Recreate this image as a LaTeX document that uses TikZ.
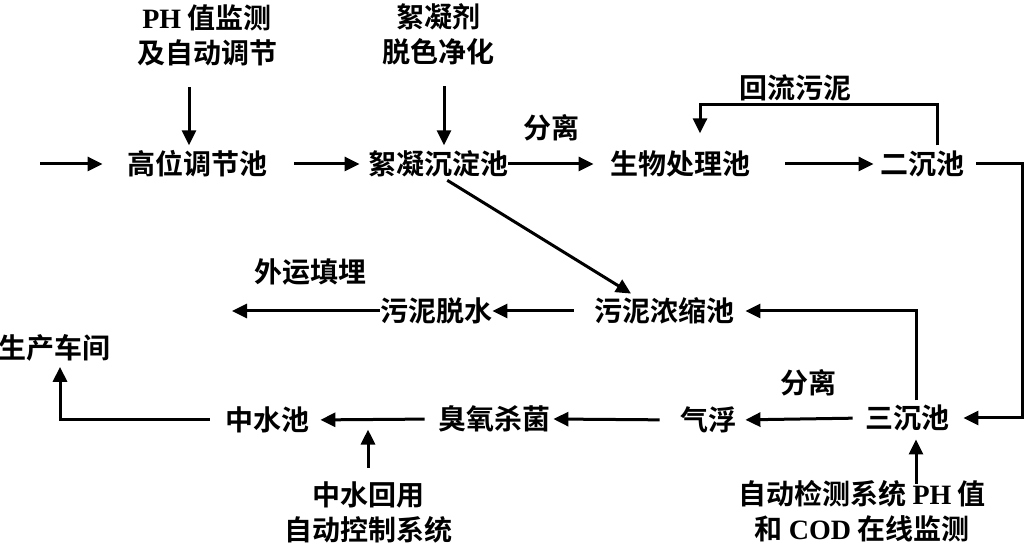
\documentclass[tikz,border=0pt]{standalone}
\usepackage{fontspec}
\setmainfont{Noto Sans CJK SC}[BoldFont={Noto Sans CJK SC Bold}]
\newfontfamily\latinbf{Liberation Serif}
\newcommand\lat[1]{{\latinbf #1}}
\usetikzlibrary{arrows.meta}

\begin{document}
\begin{tikzpicture}[x=0.5pt,y=-0.5pt,
    every node/.style={font=\fontsize{14}{17.5}\selectfont\bfseries,inner sep=0pt,align=center},
    flow/.style={line width=1.5pt,-{Triangle[length=7.5pt,width=7pt]}}]
     \useasboundingbox (0,0) rectangle (1024,544);
     % pools
     \node (gw) at (197,164) {高位调节池};
     \node (xq) at (438,164) {絮凝沉淀池};
     \node (sw) at (680,164) {生物处理池};
     \node (ec) at (922,164) {二沉池};
     \node (nc) at (664,311) {污泥浓缩池};
     \node (ts) at (436,311) {污泥脱水};
     \node (sc) at ( 54,348) {生产车间};
     \node (tc) at (907,418) {三沉池};
     \node (qf) at (708,420) {气浮};
     \node (cy) at (494,419) {臭氧杀菌};
     \node (zs) at (267,420) {中水池};
     % notes
     \node (ph) at (207, 35) {\lat{PH} 值监测\\及自动调节};
     \node (xj) at (438, 34) {絮凝剂\\脱色净化};
     \node (zh) at (368,512) {中水回用\\自动控制系统};
     \node (zd) at (862,511) {自动检测系统 \lat{PH} 值\\和 \lat{COD} 在线监测};
     \node (f1) at (551,128) {分离};
     \node (f2) at (808,383) {分离};
     \node (hl) at (795, 88) {回流污泥};
     \node (wy) at (310,272) {外运填埋};
     % helper points
     \coordinate (in)  at ( 40,164);
     \coordinate (out) at (232,311);
     \coordinate (a1)  at (189,0);
     \coordinate (a2)  at (444,0);
     \coordinate (a3)  at (368,0);
     \coordinate (a4)  at (916,0);
     \coordinate (r1)  at (937,105);
     \coordinate (r2)  at (700,105);
     \coordinate (c1)  at (1022,164);
     % top line
     \draw[flow,shorten >=12pt] (in) -- (gw.west);
     \draw[flow,shorten <=13.5pt,shorten >=4pt] (gw.east) -- (xq.west);
     \draw[flow,shorten >=8pt] (xq.east) -- (sw.west);
     \draw[flow,shorten <=17.5pt,shorten >=3pt] (sw.east) -- (ec.west);
     \draw[flow,shorten <=10.5pt,shorten >=2.5pt] (a1 |- ph.south) -- (a1 |- gw.north);
     \draw[flow,shorten <=10.5pt,shorten >=2.5pt] (a2 |- xj.south) -- (a2 |- xq.north);
     \draw[flow,shorten <=2.5pt,shorten >=8.5pt] (r1 |- ec.north) -- (r1) -- (r2) -- (r2 |- sw.north);
     \draw[flow,shorten <=6pt,shorten >=7pt] (ec.east) -- (c1) |- (tc.east);
     % sludge
     \draw[flow,shorten <=2.5pt,shorten >=3.5pt] ([xshift=2.5pt]xq.south) -- ([xshift=-13.5pt]nc.north);
     \draw[flow,shorten <=2pt,shorten >=5.5pt] (a4 |- tc.north) |- (nc.east);
     \draw[flow,shorten <=10pt] (nc.west) -- (ts.east);
     \draw[flow] (ts.west) -- (out);
     % bottom line
     \draw[flow,shorten <=6pt,shorten >=4.5pt] (tc.west) -- (qf.east);
     \draw[flow,shorten <=10pt,shorten >=1.5pt] (qf.west) -- (cy.east);
     \draw[flow,shorten <=6.5pt,shorten >=5.5pt] (cy.west) -- (zs.east);
     \draw[flow,shorten <=7.5pt,shorten >=2.5pt] (zs.west) -| ([xshift=3pt]sc.south);
     \draw[flow,shorten <=6.5pt,shorten >=-2pt] (a3 |- zh.north) -- (a3 |- zs.south);
     \draw[flow,shorten <=-2pt,shorten >=4pt] (a4 |- zd.north) -- (a4 |- tc.south);
\end{tikzpicture}
\end{document}
